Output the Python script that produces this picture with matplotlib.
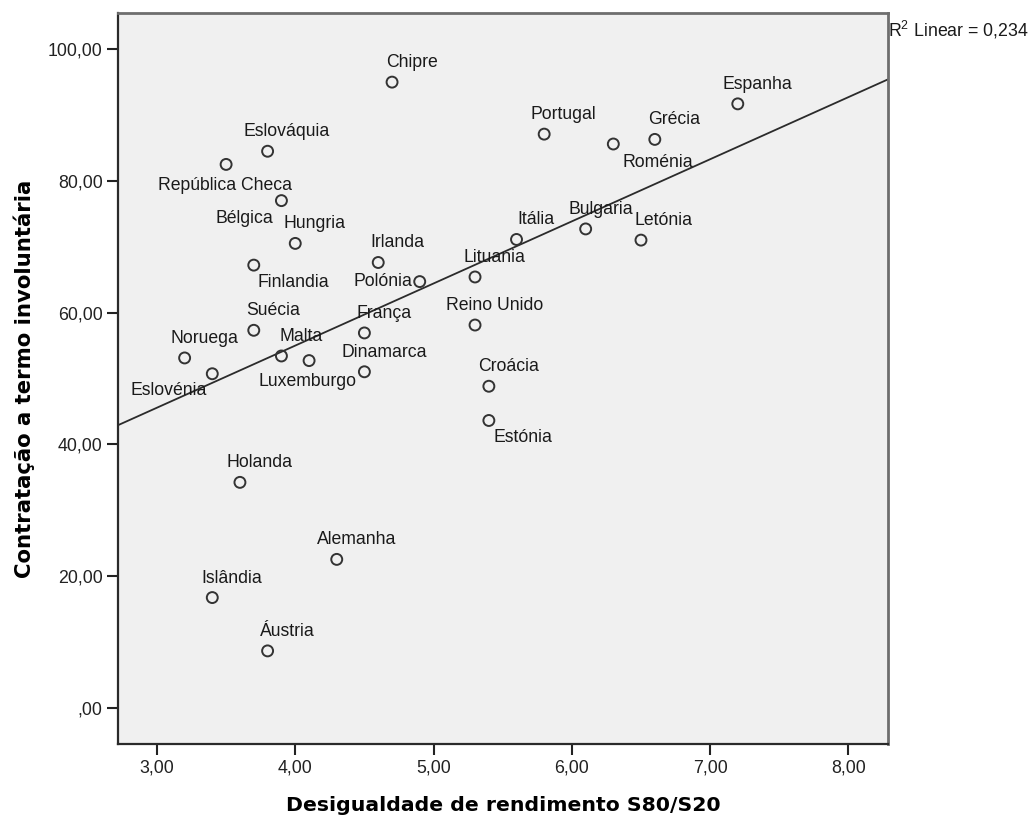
#!/usr/bin/env python3
import numpy as np
import matplotlib
matplotlib.use("Agg")
import matplotlib.pyplot as plt
from matplotlib.ticker import FuncFormatter, MultipleLocator

paises = [
    "Chipre", "Portugal", "Roménia", "Grécia", "Espanha",
    "Eslováquia", "República Checa", "Bélgica", "Hungria", "Finlandia",
    "Irlanda", "Polónia", "Lituania", "Itália", "Bulgaria",
    "Letónia", "Reino Unido", "França", "Dinamarca", "Croácia",
    "Estónia", "Suécia", "Noruega", "Eslovénia", "Malta",
    "Luxemburgo", "Holanda", "Alemanha", "Islândia", "Áustria",
]
desigualdade = [
    4.7, 5.8, 6.3, 6.6, 7.2,
    3.8, 3.5, 3.9, 4.0, 3.7,
    4.6, 4.9, 5.3, 5.6, 6.1,
    6.5, 5.3, 4.5, 4.5, 5.4,
    5.4, 3.7, 3.2, 3.4, 3.9,
    4.1, 3.6, 4.3, 3.4, 3.8,
]
contratacao = [
    95.0, 87.1, 85.6, 86.3, 91.7,
    84.5, 82.5, 77.0, 70.5, 67.2,
    67.6, 64.7, 65.4, 71.1, 72.7,
    71.0, 58.1, 56.9, 51.0, 48.8,
    43.6, 57.3, 53.1, 50.7, 53.4,
    52.7, 34.2, 22.5, 16.7, 8.6,
]
r2_linear = 0.234

# deslocamento dos rotulos (pixels): por omissao acima e a direita
OFFSET_PADRAO = (19.5, 19.5)
OFFSETS = {
    "República Checa": (-1, -21),
    "Bélgica": (-37, -18),
    "Finlandia": (40, -17),
    "Eslovénia": (-44, -17),
    "Luxemburgo": (-2, -21),
    "Roménia": (44, -18),
    "Polónia": (-37, 0),
    "Estónia": (34, -17),
    "Bulgaria": (15, 19),
    "Letónia": (23, 20),
}

FONTE = "Liberation Sans"
FONTE_TITULO = "DejaVu Sans"


def formato_virgula(v, _pos):
    s = f"{v:.2f}".replace(".", ",")
    if s.startswith("0,"):
        s = s[1:]
    return s


def main():
    fig = plt.figure(figsize=(10.33, 8.18), dpi=100)
    ax = fig.add_axes([0.1142, 0.0905, 0.7454, 0.8936])
    ax.set_facecolor("#f0f0f0")

    x = np.array(desigualdade)
    y = np.array(contratacao)

    ax.set_xlim(2.718, 8.286)
    ax.set_ylim(-5.54, 105.5)

    # reta de regressao linear
    a, b = np.polyfit(x, y, 1)
    xs = np.array(ax.get_xlim())
    ax.plot(xs, a * xs + b, color="#2b2b2b", linewidth=1.3, zorder=2)

    ax.scatter(x, y, s=62, facecolors="none", edgecolors="#333333",
               linewidths=1.4, zorder=3)

    for nome, xi, yi in zip(paises, x, y):
        dx, dy = OFFSETS.get(nome, OFFSET_PADRAO)
        ax.annotate(nome, (xi, yi), xytext=(dx, dy), textcoords="offset pixels",
                    ha="center", va="center", fontsize=12.7, family=FONTE,
                    color="#1a1a1a", zorder=4)

    ax.xaxis.set_major_locator(MultipleLocator(1))
    ax.yaxis.set_major_locator(MultipleLocator(20))
    ax.xaxis.set_major_formatter(FuncFormatter(formato_virgula))
    ax.yaxis.set_major_formatter(FuncFormatter(formato_virgula))
    ax.tick_params(direction="out", length=8, width=1.5, color="#222222",
                   labelsize=12.8, labelcolor="#222222", pad=3)
    for lab in ax.get_xticklabels() + ax.get_yticklabels():
        lab.set_family(FONTE)

    for lado in ("left", "bottom"):
        ax.spines[lado].set_color("#2a2a2a")
        ax.spines[lado].set_linewidth(1.6)
    for lado in ("top", "right"):
        ax.spines[lado].set_color("#6e6e6e")
        ax.spines[lado].set_linewidth(2.0)

    ax.set_xlabel("Desigualdade de rendimento S80/S20", fontsize=14.7,
                  fontweight="bold", family=FONTE_TITULO, labelpad=14)
    ax.set_ylabel("Contratação a termo involuntária", fontsize=15.3,
                  fontweight="bold", family=FONTE_TITULO, labelpad=9)

    r2_txt = f"$\\mathregular{{R^2}}$ Linear = {r2_linear:.3f}".replace(".", ",")
    ax.annotate(r2_txt, (1.0, 1.0), xycoords="axes fraction", xytext=(0, -6),
                textcoords="offset pixels", ha="left", va="top",
                fontsize=12.8, family=FONTE, color="#1a1a1a")

    fig.savefig("out.png", dpi=100)
    plt.close(fig)


if __name__ == "__main__":
    main()
